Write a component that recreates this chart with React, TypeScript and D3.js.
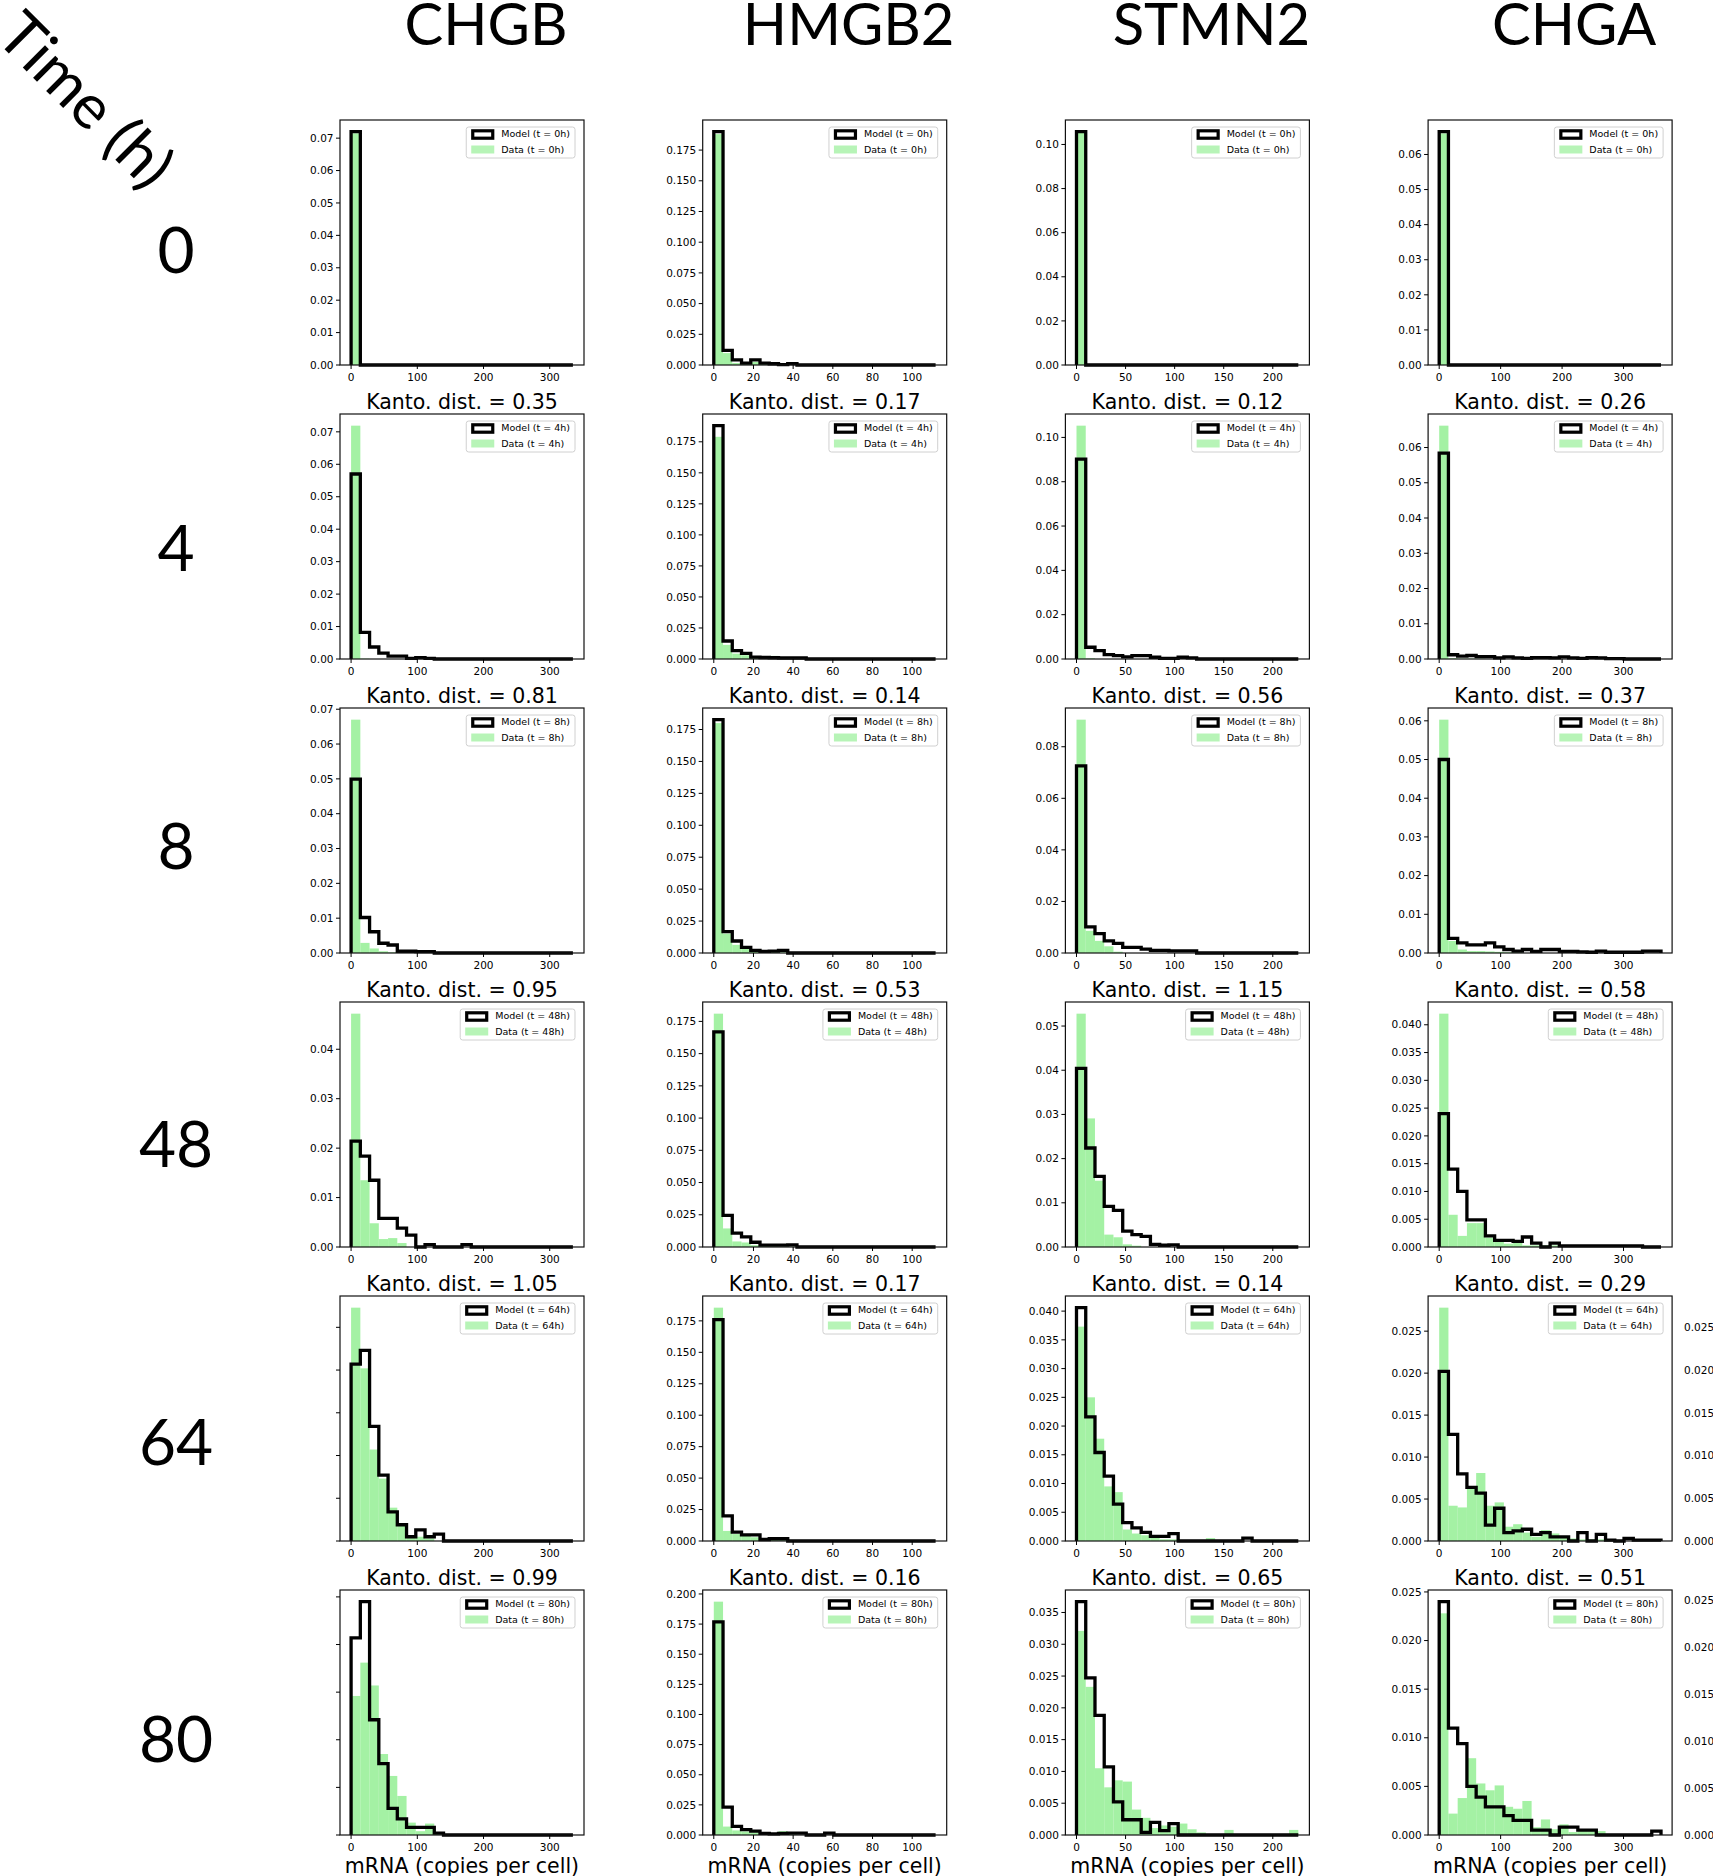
import React from "react";
import * as d3 from "d3";

// ---------- data ----------
const genes = ["CHGB", "HMGB2", "STMN2", "CHGA"];
const times = [0, 4, 8, 48, 64, 80];
const nBins = 24;
const histMax = [335, 111.8, 226, 361];
const xTickValues = [
  [0, 100, 200, 300],
  [0, 20, 40, 60, 80, 100],
  [0, 50, 100, 150, 200],
  [0, 100, 200, 300],
];
const yTickStep = [
  [0.01, 0.01, 0.01, 0.01, 0.005, 0.005],
  [0.025, 0.025, 0.025, 0.025, 0.025, 0.025],
  [0.02, 0.02, 0.02, 0.01, 0.005, 0.005],
  [0.01, 0.01, 0.01, 0.005, 0.005, 0.005],
];
const yLabelsShown = [
  [true, true, true, true, false, false],
  [true, true, true, true, true, true],
  [true, true, true, true, true, true],
  [true, true, true, true, true, true],
];
// Kantorovich distances shown above rows 2..6
const kantoCHGB = [0.35, 0.81, 0.95, 1.05, 0.99];
const kantoHMGB2 = [0.17, 0.14, 0.53, 0.17, 0.16];
const kantoSTMN2 = [0.12, 0.56, 1.15, 0.14, 0.65];
const kantoCHGA = [0.26, 0.37, 0.58, 0.29, 0.51];

const chgbModel = [
  [0.072, 0, 0, 0, 0, 0, 0, 0, 0, 0, 0, 0, 0, 0, 0, 0, 0, 0, 0, 0, 0, 0, 0, 0],
  [0.057, 0.0082, 0.0037, 0.0018, 0.0009, 0.0009, 0.0002, 0.0004, 0.0002, 0, 0, 0, 0, 0, 0, 0, 0, 0, 0, 0, 0, 0, 0, 0],
  [0.0499, 0.0102, 0.0061, 0.0028, 0.0023, 0.0005, 0.0005, 0.0004, 0.0004, 0, 0, 0, 0, 0, 0, 0, 0, 0, 0, 0, 0, 0, 0, 0],
  [0.0214, 0.0184, 0.0135, 0.0058, 0.0058, 0.0038, 0.0024, 0, 0.0005, 0, 0, 0, 0.0005, 0, 0, 0, 0, 0, 0, 0, 0, 0, 0, 0],
  [0.0207, 0.0223, 0.0134, 0.0077, 0.0034, 0.0019, 0.0005, 0.0013, 0.0005, 0.0008, 0, 0, 0, 0, 0, 0, 0, 0, 0, 0, 0, 0, 0, 0],
  [0.0207, 0.0245, 0.0121, 0.0075, 0.0028, 0.0017, 0.0008, 0.0008, 0.0008, 0.0002, 0, 0, 0, 0, 0, 0, 0, 0, 0, 0, 0, 0, 0, 0],
];
const chgbData = [
  [0.0715, 0, 0, 0, 0, 0, 0, 0, 0, 0, 0, 0, 0, 0, 0, 0, 0, 0, 0, 0, 0, 0, 0, 0],
  [0.0719, 0.0001, 0, 0, 0, 0, 0, 0, 0, 0, 0, 0, 0, 0, 0, 0, 0, 0, 0, 0, 0, 0, 0, 0],
  [0.067, 0.0029, 0.0013, 0.0005, 0.0002, 0, 0, 0, 0, 0, 0, 0, 0, 0, 0, 0, 0, 0, 0, 0, 0, 0, 0, 0],
  [0.0472, 0.0135, 0.0048, 0.0016, 0.0018, 0.0008, 0, 0, 0, 0, 0, 0, 0, 0, 0, 0, 0, 0, 0, 0, 0, 0, 0, 0],
  [0.0273, 0.0202, 0.0107, 0.0073, 0.0039, 0.0019, 0.0007, 0.0005, 0.0003, 0, 0, 0, 0, 0, 0, 0, 0, 0, 0, 0, 0, 0, 0, 0],
  [0.0146, 0.0181, 0.0157, 0.0085, 0.0062, 0.0041, 0.0013, 0.0004, 0.0012, 0.0003, 0, 0, 0, 0, 0, 0, 0, 0, 0, 0, 0, 0, 0, 0],
];
const hmgb2Model = [
  [0.19, 0.0119, 0.0041, 0.0016, 0.0041, 0.0016, 0.001, 0.0003, 0.0012, 0, 0, 0, 0, 0, 0, 0, 0, 0, 0, 0, 0, 0, 0, 0],
  [0.188, 0.0145, 0.0068, 0.0046, 0.0015, 0.0012, 0.001, 0.0008, 0.0008, 0.0008, 0, 0, 0, 0, 0, 0, 0, 0, 0, 0, 0, 0, 0, 0],
  [0.1827, 0.0167, 0.0094, 0.0044, 0.002, 0.0012, 0.0015, 0.002, 0, 0, 0, 0, 0, 0, 0, 0, 0, 0, 0, 0, 0, 0, 0, 0],
  [0.1668, 0.0245, 0.0107, 0.0078, 0.0037, 0.0014, 0.0014, 0.0014, 0.0017, 0, 0, 0, 0, 0, 0, 0, 0, 0, 0, 0, 0, 0, 0, 0],
  [0.176, 0.02, 0.0071, 0.0049, 0.0049, 0.0012, 0.0018, 0.0018, 0, 0, 0, 0, 0, 0, 0, 0, 0, 0, 0, 0, 0, 0, 0, 0],
  [0.1769, 0.0231, 0.0071, 0.0045, 0.0032, 0.0013, 0.001, 0.0013, 0.0016, 0.0016, 0, 0, 0.0016, 0, 0, 0, 0, 0, 0, 0, 0, 0, 0, 0],
];
const hmgb2Data = [
  [0.188, 0.0097, 0.0016, 0.001, 0.0025, 0.001, 0.0008, 0.0003, 0.0005, 0, 0, 0, 0, 0, 0, 0, 0, 0, 0, 0, 0, 0, 0, 0],
  [0.179, 0.0114, 0.0043, 0.003, 0.0012, 0.0015, 0.0025, 0.0008, 0.0005, 0.0003, 0, 0, 0, 0, 0, 0, 0, 0, 0, 0, 0, 0, 0, 0],
  [0.18, 0.0152, 0.0064, 0.0035, 0.0015, 0.001, 0.0018, 0.0005, 0.0003, 0, 0, 0, 0, 0, 0, 0, 0, 0, 0, 0, 0, 0, 0, 0],
  [0.181, 0.0144, 0.0043, 0.0035, 0.0014, 0.0008, 0.0006, 0.0004, 0.0003, 0, 0, 0, 0, 0, 0, 0, 0, 0, 0, 0, 0, 0, 0, 0],
  [0.1855, 0.008, 0.0055, 0.004, 0.003, 0.0015, 0.0012, 0.0008, 0.0004, 0, 0, 0, 0, 0, 0, 0, 0, 0, 0, 0, 0, 0, 0, 0],
  [0.1936, 0.007, 0.0038, 0.0029, 0.0022, 0.0013, 0.0016, 0.0032, 0.0005, 0, 0, 0, 0, 0, 0, 0, 0, 0, 0, 0, 0, 0, 0, 0],
];
const stmn2Model = [
  [0.1058, 0, 0, 0, 0, 0, 0, 0, 0, 0, 0, 0, 0, 0, 0, 0, 0, 0, 0, 0, 0, 0, 0, 0],
  [0.0902, 0.0053, 0.0038, 0.002, 0.0015, 0.001, 0.0015, 0.0015, 0.0008, 0.0003, 0.0003, 0.0008, 0.0005, 0, 0, 0, 0, 0, 0, 0, 0, 0, 0, 0],
  [0.0726, 0.0101, 0.0075, 0.0047, 0.0037, 0.0022, 0.0022, 0.0015, 0.001, 0.001, 0.0008, 0.0008, 0.0008, 0, 0, 0, 0, 0, 0, 0, 0, 0, 0, 0],
  [0.0404, 0.0224, 0.016, 0.0092, 0.0083, 0.0036, 0.0028, 0.0024, 0.0006, 0.0004, 0.0005, 0, 0, 0, 0, 0, 0, 0, 0, 0, 0, 0, 0, 0],
  [0.0406, 0.0216, 0.0154, 0.0113, 0.0064, 0.0032, 0.0023, 0.0015, 0.0008, 0.0008, 0.0013, 0, 0, 0, 0, 0, 0, 0, 0.0005, 0, 0, 0, 0, 0],
  [0.0367, 0.0247, 0.0188, 0.0107, 0.0052, 0.0024, 0.0024, 0.0004, 0.002, 0.0007, 0.0018, 0, 0, 0, 0, 0, 0, 0, 0, 0, 0, 0, 0, 0],
];
const stmn2Data = [
  [0.1055, 0, 0, 0, 0, 0, 0, 0, 0, 0, 0, 0, 0, 0, 0, 0, 0, 0, 0, 0, 0, 0, 0, 0],
  [0.1053, 0.0003, 0, 0, 0, 0, 0, 0, 0, 0, 0, 0, 0, 0, 0, 0, 0, 0, 0, 0, 0, 0, 0, 0],
  [0.0905, 0.0086, 0.0047, 0.0026, 0.0005, 0, 0, 0, 0, 0, 0, 0, 0, 0, 0, 0, 0, 0, 0, 0, 0, 0, 0, 0],
  [0.0528, 0.0291, 0.015, 0.0028, 0.0022, 0.0006, 0.0003, 0, 0, 0, 0, 0, 0, 0, 0, 0, 0, 0, 0, 0, 0, 0, 0, 0],
  [0.0373, 0.025, 0.0178, 0.0095, 0.0085, 0.002, 0.0013, 0.001, 0.0007, 0.0003, 0.0003, 0, 0, 0, 0.0005, 0, 0, 0, 0, 0, 0, 0, 0, 0],
  [0.0321, 0.0233, 0.0105, 0.0075, 0.0086, 0.0084, 0.004, 0.0027, 0.0011, 0.0015, 0.0013, 0.0018, 0.0009, 0.0004, 0, 0, 0.0008, 0, 0, 0, 0, 0, 0, 0.0008],
];
const chgaModel = [
  [0.0665, 0, 0, 0, 0, 0, 0, 0, 0, 0, 0, 0, 0, 0, 0, 0, 0, 0, 0, 0, 0, 0, 0, 0],
  [0.0584, 0.0012, 0.0008, 0.001, 0.0007, 0.0007, 0.0003, 0.0006, 0.0003, 0.0002, 0.0004, 0.0004, 0.0003, 0.0006, 0.0003, 0.0002, 0.0004, 0.0003, 0.0001, 0.0001, 0, 0, 0, 0],
  [0.05, 0.0038, 0.0026, 0.0021, 0.0021, 0.0026, 0.0016, 0.0009, 0.0005, 0.0009, 0.0004, 0.0009, 0.0009, 0.0004, 0.0004, 0.0003, 0.0002, 0.0005, 0.0002, 0.0002, 0.0002, 0.0002, 0.0005, 0.0005],
  [0.024, 0.014, 0.01, 0.0049, 0.0049, 0.002, 0.0012, 0.0012, 0.001, 0.0018, 0.0007, 0, 0.0007, 0.0002, 0.0002, 0.0002, 0.0002, 0.0002, 0.0002, 0.0002, 0.0002, 0.0002, 0, 0],
  [0.0202, 0.0127, 0.008, 0.0064, 0.0057, 0.0019, 0.0039, 0.001, 0.0012, 0.0014, 0.0008, 0.001, 0.0005, 0.0005, 0, 0.001, 0, 0.0008, 0.0001, 0, 0.0003, 0.0001, 0.0001, 0.0001],
  [0.024, 0.011, 0.0094, 0.005, 0.0039, 0.0029, 0.0029, 0.002, 0.0015, 0.0015, 0.0005, 0.0005, 0, 0.0008, 0.0008, 0.0005, 0.0005, 0, 0, 0, 0, 0, 0, 0.0004],
];
const chgaData = [
  [0.066, 0, 0, 0, 0, 0, 0, 0, 0, 0, 0, 0, 0, 0, 0, 0, 0, 0, 0, 0, 0, 0, 0, 0],
  [0.0662, 0.0002, 0.0001, 0.0001, 0.0001, 0, 0, 0, 0, 0, 0, 0, 0, 0, 0, 0, 0, 0, 0, 0, 0, 0, 0, 0],
  [0.0603, 0.0031, 0.0009, 0.0005, 0.0005, 0.0004, 0.0003, 0.0002, 0.0002, 0, 0, 0, 0, 0, 0, 0, 0, 0, 0, 0, 0, 0, 0, 0],
  [0.042, 0.0058, 0.002, 0.0043, 0.0043, 0.0017, 0.001, 0.0006, 0.0008, 0.0003, 0.0003, 0.0003, 0.0003, 0.0003, 0.0002, 0.0002, 0.0002, 0.0001, 0, 0, 0, 0, 0, 0],
  [0.0278, 0.0042, 0.004, 0.0063, 0.0081, 0.0042, 0.0046, 0.0017, 0.002, 0.001, 0.0005, 0.0013, 0.0009, 0.0005, 0.0003, 0.0002, 0.0002, 0.0002, 0.0001, 0, 0, 0, 0, 0],
  [0.0228, 0.0022, 0.0038, 0.0079, 0.0053, 0.0046, 0.0051, 0.0029, 0.0027, 0.0035, 0.0008, 0.0016, 0.0006, 0.0011, 0.0003, 0.0006, 0.0004, 0.0004, 0, 0, 0, 0, 0, 0],
];
// tick labels of a clipped neighbouring axis at the right edge (rows 64h, 80h)
const ghostRows = [4, 5];
const ghostYMax = [0.0287, 0.0261];
const ghostTicks = [0, 0.005, 0.01, 0.015, 0.02, 0.025];

const modelByGene = [chgbModel, hmgb2Model, stmn2Model, chgaModel];
const dataByGene = [chgbData, hmgb2Data, stmn2Data, chgaData];
const kantoByGene = [kantoCHGB, kantoHMGB2, kantoSTMN2, kantoCHGA];

// ---------- layout ----------
const WIDTH = 1713;
const HEIGHT = 1876;
const AX_W = 244;
const AX_H = 245;
const colX = (g: number) => 340 + g * 362.7;
const rowY = (r: number) => 120 + r * 294;
const TICK_FONT = "'DejaVu Sans', sans-serif";
const HEAD_FONT = "Lato, 'Open Sans', sans-serif";
const GREEN = "#90ee90";

const charW: Record<string, number> = {
  M: 0.863, o: 0.612, d: 0.635, e: 0.615, l: 0.278, " ": 0.318, "(": 0.39, ")": 0.39,
  t: 0.392, "=": 0.838, h: 0.634, D: 0.77, a: 0.613,
};
const textWidth = (s: string, size: number) =>
  s.split("").reduce((acc, c) => acc + (charW[c] ?? 0.636), 0) * size;

function Legend({ t }: { t: number }) {
  const fs = 9.5;
  const l1 = `Model (t = ${t}h)`;
  const l2 = `Data (t = ${t}h)`;
  const tw = Math.max(textWidth(l1, fs), textWidth(l2, fs));
  const bw = 5 + 22 + 8 + tw + 5;
  const bx = AX_W - 9 - bw;
  const by = 7;
  return (
    <g transform={`translate(${bx},${by})`}>
      <rect x={0} y={0} width={bw} height={31} rx={2.5} fill="#fff" fillOpacity={0.8} stroke="#d0d0d0" strokeWidth={1} />
      <rect x={6.5} y={7 - 3.2} width={20} height={7.4} fill="#fff" stroke="#000" strokeWidth={3.2} />
      <rect x={5} y={22.5 - 4} width={23} height={8} fill={GREEN} fillOpacity={0.65} />
      <text x={35} y={7} dy="0.35em" fontFamily={TICK_FONT} fontSize={fs} fill="#000">{l1}</text>
      <text x={35} y={22.5} dy="0.35em" fontFamily={TICK_FONT} fontSize={fs} fill="#000">{l2}</text>
    </g>
  );
}

function Panel({ g, r }: { g: number; r: number }) {
  const xmax = histMax[g];
  const model = modelByGene[g][r];
  const data = dataByGene[g][r];
  const x = d3.scaleLinear().domain([-0.05 * xmax, 1.05 * xmax]).range([0, AX_W]);
  const edges = d3.range(nBins + 1).map((i) => (i * xmax) / nBins);
  const ymax = 1.05 * Math.max(d3.max(model) as number, d3.max(data) as number);
  const y = d3.scaleLinear().domain([0, ymax]).range([AX_H, 0]);
  const step = yTickStep[g][r];
  const nT = Math.floor(ymax / step + 1e-9);
  const yTicks = d3.range(nT + 1).map((i) => i * step);
  const dec = step < 0.01 || step === 0.025 ? 3 : 2;

  const pts: [number, number][] = [[edges[0], 0]];
  model.forEach((v, i) => {
    pts.push([edges[i], v]);
    pts.push([edges[i + 1], v]);
  });
  pts.push([edges[nBins], 0]);
  const line = d3
    .line<[number, number]>()
    .x((d) => x(d[0]))
    .y((d) => y(d[1]));

  const kanto = kantoByGene[g];
  return (
    <g transform={`translate(${colX(g)},${rowY(r)})`}>
      {data.map((v, i) =>
        v > 0 ? (
          <rect
            key={i}
            x={x(edges[i])}
            y={y(v)}
            width={x(edges[i + 1]) - x(edges[i])}
            height={AX_H - y(v)}
            fill={GREEN}
            fillOpacity={0.82}
          />
        ) : null
      )}
      <path d={line(pts) as string} fill="none" stroke="#000" strokeWidth={3.3} strokeLinejoin="miter" />
      <rect x={0} y={0} width={AX_W} height={AX_H} fill="none" stroke="#111" strokeWidth={1.2} />
      {yTicks.map((t, i) => (
        <g key={i} transform={`translate(0,${y(t)})`}>
          <line x1={-4} x2={0} stroke="#000" strokeWidth={1} />
          {yLabelsShown[g][r] ? (
            <text x={-6.5} dy="0.35em" textAnchor="end" fontFamily={TICK_FONT} fontSize={10.5} fill="#000">
              {t.toFixed(dec)}
            </text>
          ) : null}
        </g>
      ))}
      {xTickValues[g].map((t, i) => (
        <g key={i} transform={`translate(${x(t)},${AX_H})`}>
          <line y1={0} y2={4} stroke="#000" strokeWidth={1} />
          <text y={16} textAnchor="middle" fontFamily={TICK_FONT} fontSize={10.5} fill="#000">
            {t}
          </text>
        </g>
      ))}
      <Legend t={times[r]} />
      {r > 0 ? (
        <text x={AX_W / 2} y={-5} textAnchor="middle" fontFamily={TICK_FONT} fontSize={20.5} fill="#000">
          {`Kanto. dist. = ${kanto[r - 1].toFixed(2)}`}
        </text>
      ) : null}
      {r === times.length - 1 ? (
        <text x={AX_W / 2} y={AX_H + 38} textAnchor="middle" fontFamily={TICK_FONT} fontSize={20.5} fill="#000">
          mRNA (copies per cell)
        </text>
      ) : null}
    </g>
  );
}

function Ghost({ idx }: { idx: number }) {
  const r = ghostRows[idx];
  const y = d3.scaleLinear().domain([0, ghostYMax[idx]]).range([AX_H, 0]);
  return (
    <g transform={`translate(1684,${rowY(r)})`}>
      {ghostTicks.map((t, i) => (
        <text key={i} y={y(t)} dy="0.35em" fontFamily={TICK_FONT} fontSize={10.5} fill="#000">
          {t.toFixed(3)}
        </text>
      ))}
    </g>
  );
}

export default function App() {
  return (
    <svg
      width={WIDTH}
      height={HEIGHT}
      viewBox={`0 0 ${WIDTH} ${HEIGHT}`}
      style={{ position: "absolute", left: 0, top: 0, display: "block", background: "#fff" }}
    >
      <rect x={0} y={0} width={WIDTH} height={HEIGHT} fill="#fff" />
      <text
        transform="translate(86,100) rotate(45)"
        textAnchor="middle"
        dy="0.35em"
        fontFamily={HEAD_FONT}
        fontSize={62}
        fill="#000"
      >
        Time (h)
      </text>
      {genes.map((gname, g) => (
        <text key={gname} x={colX(g) + AX_W / 2 + 24} y={45} textAnchor="middle" fontFamily={HEAD_FONT} fontSize={58} fill="#000">
          {gname}
        </text>
      ))}
      {times.map((t, r) => (
        <text key={t} x={176} y={251 + r * 297.8} dy="0.35em" textAnchor="middle" fontFamily={HEAD_FONT} fontSize={64} fill="#000">
          {t}
        </text>
      ))}
      {genes.map((_, g) => times.map((_, r) => <Panel key={`${g}-${r}`} g={g} r={r} />))}
      {ghostRows.map((_, i) => (
        <Ghost key={i} idx={i} />
      ))}
    </svg>
  );
}
